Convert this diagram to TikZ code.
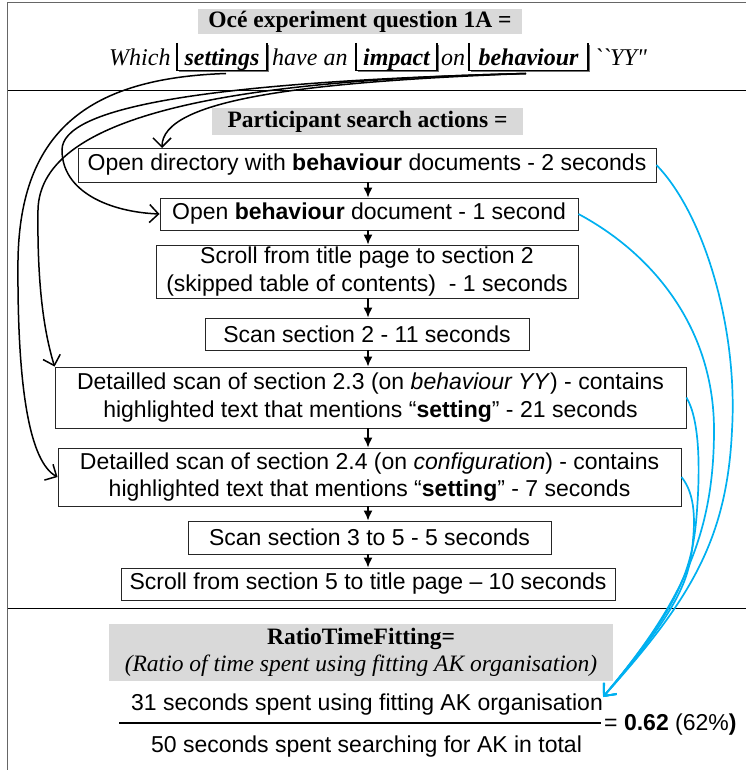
\documentclass[tikz,border=0pt]{standalone}
\usepackage{fontspec}
\setmainfont{Liberation Serif}
\setsansfont{Liberation Sans}
\newfontfamily\rawserif{Liberation Serif}
\usetikzlibrary{arrows.meta,shadows,calc}
\definecolor{hdrgray}{RGB}{217,217,217}
\definecolor{linkblue}{RGB}{0,176,240}
\tikzset{
 stepbox/.style={draw=black!85, line width=0.9pt, fill=white, inner sep=0pt, align=center,
   font=\sffamily\fontsize{23}{27.5}\selectfont,
   drop shadow={shadow xshift=1.2pt, shadow yshift=-1.2pt, fill=black!45, opacity=1}},
 hdr/.style={fill=hdrgray, inner sep=0pt, align=center, font=\bfseries\fontsize{23.5}{28}\selectfont},
 flow/.style={-{Latex[length=10pt,width=9pt]}, line width=1.5pt},
 tag/.style={-{Straight Barb[length=9pt,width=18pt]}, line width=1.5pt},
 bluelink/.style={linkblue, line width=1.7pt, -{Straight Barb[length=10pt,width=17pt]}},
 qword/.style={inner sep=0pt, font=\itshape\fontsize{24}{28}\selectfont},
 brk/.style={line width=1.1pt},
 plain/.style={inner sep=0pt, font=\sffamily\fontsize{23}{27.5}\selectfont},
}
\begin{document}
\begin{tikzpicture}[x=1pt,y=-1pt]
\useasboundingbox (0,0) rectangle (745,770);
% frame
\draw[black!60, line width=1pt] (7.5,780) -- (7.5,2.5) -- (746,2.5);
\draw[line width=0.9pt] (7.5,90) -- (746,90);
\draw[line width=0.9pt] (7.5,608) -- (746,608);

% title
\node[hdr, minimum width=324pt, minimum height=25pt] (title) at (360,21.5) {Océ experiment question 1A =};
\node[qword, anchor=base west] (q1) at (109,66) {Which};
\node[qword, anchor=base, minimum width=90pt] (q2) at (222,66) {\textbf{settings}};
\node[qword, anchor=base west] (q3) at (272,66) {have an};
\node[qword, anchor=base, minimum width=81pt] (q4) at (396.5,66) {\textbf{impact}};
\node[qword, anchor=base west] (q5) at (441,66) {on};
\node[qword, anchor=base, minimum width=119pt] (q6) at (528.5,66) {\textbf{behaviour}};
\node[qword, anchor=base west] (q7) at (594,66) {\rawserif\itshape ``YY"};
\foreach \l/\r in {177/267, 356/437, 469/588} {
  \draw[black!55, line width=1.3pt] (\l+1.5,71.6) -- (\r+1.5,71.6) -- (\r+1.5,45);
  \draw[brk] (\l,43) -- (\l,70.5) -- (\r,70.5) -- (\r,43);
}
\coordinate (s2) at (226,73.5);
\coordinate (s6) at (526,73.5);

% section 2
\node[hdr, minimum width=311pt, minimum height=27pt] (sec2) at (367.5,121.5) {Participant search actions =};
\node[stepbox, minimum width=578pt, minimum height=34pt] (b1) at (367,165) {Open directory with \textbf{behaviour} documents - 2 seconds};
\node[stepbox, minimum width=418pt, minimum height=32pt] (b2) at (369,214) {Open \textbf{behaviour} document - 1 second};
\node[stepbox, minimum width=422pt, minimum height=53pt] (b3) at (367,271.5) {Scroll from title page to section 2\\(skipped table of contents) \ - 1 seconds};
\node[stepbox, minimum width=324pt, minimum height=32pt] (b4) at (367,334) {Scan section 2 - 11 seconds};
\node[stepbox, minimum width=631pt, minimum height=61pt] (b5) at (370.5,397.5) {Detailled scan of section 2.3 (on \textit{behaviour YY}) - contains\\highlighted text that mentions “\textbf{setting}” - 21 seconds};
\node[stepbox, minimum width=623pt, minimum height=58pt] (b6) at (369.5,477) {Detailled scan of section 2.4 (on \textit{configuration}) - contains\\highlighted text that mentions “\textbf{setting}” - 7 seconds};
\node[stepbox, minimum width=363pt, minimum height=33pt] (b7) at (369.5,537.5) {Scan section 3 to 5 - 5 seconds};
\node[stepbox, minimum width=494pt, minimum height=32pt] (b8) at (368,584) {Scroll from section 5 to title page -- 10 seconds};

\foreach \a/\b in {b1/b2, b2/b3, b3/b4, b4/b5, b5/b6, b6/b7, b7/b8}
  \draw[flow] (\a.south -| 368,0) -- (\b.north -| 368,0);

% section 3
\node[hdr, minimum width=504pt, minimum height=57pt] (sec3) at (361,652.5) {RatioTimeFitting=\\[-1pt]{\mdseries\itshape (Ratio of time spent using fitting AK organisation)}};
\node[plain] (num) at (367,705) {31 seconds spent using fitting AK organisation};
\node[plain] (den) at (366.5,747) {50 seconds spent searching for AK in total};
\node[plain, anchor=west] (res) at (604,725) {= \textbf{0.62} (62\%\textbf{)}};
\coordinate (fl) at (119,723);
\coordinate (fr) at (601,723);
\draw[line width=1.3pt] (fl) -- (fr);

% keyword connectors
\coordinate (c1) at (162,148);
\draw[tag] (s2) .. controls (90,78) and (20,130) .. (18,260) .. controls (17,390) and (30,462) .. (b6.west);
\draw[tag] (s6) .. controls (250,80) and (40,110) .. (38,210) .. controls (37,290) and (45,335) .. (b5.north west);
\draw[tag] (s6) .. controls (300,82) and (162,100) .. (c1);
\draw[tag] (s6) .. controls (200,82) and (62,108) .. (62,150) .. controls (62,192) and (110,212) .. (b2.west);

% blue links
\coordinate (tip) at (603,697);
\draw[bluelink] (b1.east) .. controls (705,215) and (738,330) .. (732,430) .. controls (727,540) and (690,600) .. (tip);
\draw[bluelink] (b2.east) .. controls (655,255) and (714,330) .. (714,430) .. controls (714,530) and (685,600) .. (tip);
\draw[bluelink] (b5.east) .. controls (700,420) and (700,470) .. (697,510) .. controls (693,570) and (680,605) .. (tip);
\draw[bluelink] (b6.east) .. controls (692,490) and (696,510) .. (693,540) .. controls (690,580) and (678,610) .. (tip);
\end{tikzpicture}
\end{document}
